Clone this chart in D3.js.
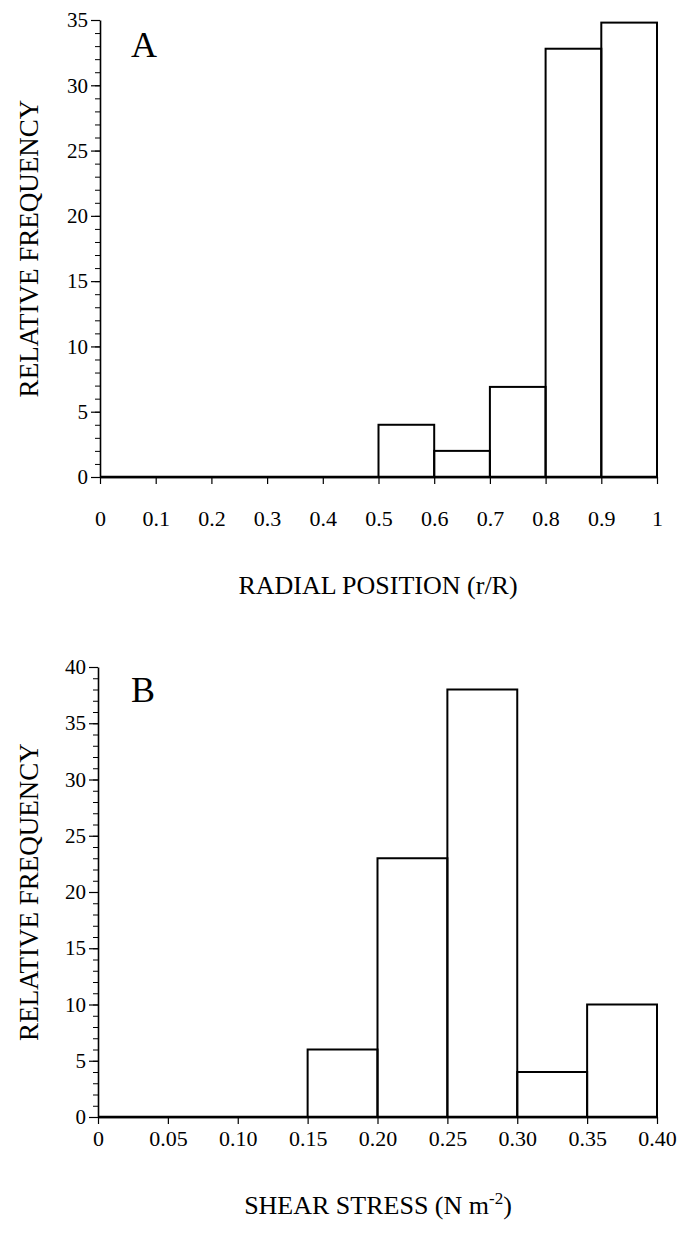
<!DOCTYPE html>
<html>
<head>
<meta charset="utf-8">
<script src="https://cdn.jsdelivr.net/npm/d3@7"></script>
</head>
<body style="margin:0;background:#fff">
<svg id="chart" width="681" height="1243" font-family="Liberation Serif"></svg>
<script>
// ---- Data ----
const aBinStarts = [0, 0.1, 0.2, 0.3, 0.4, 0.5, 0.6, 0.7, 0.8, 0.9];
const aBinWidth = 0.1;
const aValues = [0, 0, 0, 0, 0, 4, 2, 6.9, 32.8, 34.8];
const aXTicks = [0, 0.1, 0.2, 0.3, 0.4, 0.5, 0.6, 0.7, 0.8, 0.9, 1];
const aXTickLabels = ["0", "0.1", "0.2", "0.3", "0.4", "0.5", "0.6", "0.7", "0.8", "0.9", "1"];
const aYTicks = [0, 5, 10, 15, 20, 25, 30, 35];

const bBinStarts = [0, 0.05, 0.10, 0.15, 0.20, 0.25, 0.30, 0.35];
const bBinWidth = 0.05;
const bValues = [0, 0, 0, 6, 23, 38, 4, 10];
const bXTicks = [0, 0.05, 0.10, 0.15, 0.20, 0.25, 0.30, 0.35, 0.40];
const bXTickLabels = ["0", "0.05", "0.10", "0.15", "0.20", "0.25", "0.30", "0.35", "0.40"];
const bYTicks = [0, 5, 10, 15, 20, 25, 30, 35, 40];

const FONT = '"Liberation Serif"';
const svg = d3.select("#chart");

function panel(cfg) {
  const x = d3.scaleLinear().domain(cfg.xDomain).range([cfg.left, cfg.right]);
  const y = d3.scaleLinear().domain(cfg.yDomain).range([cfg.bottom, cfg.top]);
  const g = svg.append("g");

  // minor y ticks
  const minor = d3.range(cfg.yDomain[0], cfg.yDomain[1] + 1, 1);
  g.append("g")
    .attr("transform", `translate(${cfg.left},0)`)
    .call(d3.axisLeft(y).tickValues(minor).tickSize(5).tickFormat(""))
    .call(s => s.select(".domain").remove())
    .call(s => s.selectAll("line").attr("stroke", "#000").attr("stroke-width", 1));

  // major y axis
  const ya = g.append("g")
    .attr("transform", `translate(${cfg.left},0)`)
    .call(d3.axisLeft(y).tickValues(cfg.yTicks).tickSize(9).tickSizeOuter(0).tickPadding(3));
  ya.attr("font-family", null).attr("font-size", null);
  ya.select(".domain").attr("stroke", "#000").attr("stroke-width", 1.6);
  ya.selectAll("line").attr("stroke", "#000").attr("stroke-width", 1.2);
  ya.selectAll("text").style("font-family", FONT).style("font-size", "21px").attr("fill", "#000");

  // x axis
  const xa = g.append("g")
    .attr("transform", `translate(0,${cfg.bottom})`)
    .call(d3.axisBottom(x).tickValues(cfg.xTicks).tickSize(7).tickSizeOuter(0).tickPadding(cfg.xPad)
      .tickFormat((d, i) => cfg.xLabels[i]));
  xa.attr("font-family", null).attr("font-size", null);
  xa.select(".domain").attr("stroke", "#000").attr("stroke-width", 1.6);
  xa.selectAll("line").attr("stroke", "#000").attr("stroke-width", 1.2);
  xa.selectAll("text").style("font-family", FONT).style("font-size", "22px").attr("fill", "#000");

  // bars
  g.append("g").selectAll("rect")
    .data(cfg.starts.map((s, i) => ({ s, v: cfg.values[i] })))
    .join("rect")
    .attr("x", d => x(d.s))
    .attr("y", d => y(d.v))
    .attr("width", d => x(d.s + cfg.width) - x(d.s))
    .attr("height", d => y(0) - y(d.v))
    .attr("fill", "none")
    .attr("stroke", "#000")
    .attr("stroke-width", 2);

  // baseline emphasized
  g.append("line")
    .attr("x1", x(cfg.xDomain[0])).attr("x2", x(cfg.xDomain[1]))
    .attr("y1", y(0)).attr("y2", y(0))
    .attr("stroke", "#000").attr("stroke-width", 2.4);

  // panel letter
  g.append("text")
    .attr("x", cfg.letterX).attr("y", cfg.letterY)
    .style("font-family", FONT).style("font-size", "36px")
    .text(cfg.letter);

  // y title
  g.append("text")
    .attr("transform", `translate(${cfg.yTitleX},${(cfg.top + cfg.bottom) / 2}) rotate(-90)`)
    .attr("text-anchor", "middle")
    .style("font-family", FONT).style("font-size", "27px")
    .text("RELATIVE FREQUENCY");

  // x title
  const xt = g.append("text")
    .attr("x", cfg.xTitleX)
    .attr("y", cfg.xTitleY)
    .attr("text-anchor", "middle")
    .style("font-family", FONT).style("font-size", "26px");
  cfg.xTitle(xt);
}

panel({
  xDomain: [0, 1], yDomain: [0, 35],
  left: 100, right: 657, top: 20, bottom: 477,
  starts: aBinStarts, width: aBinWidth, values: aValues,
  xTicks: aXTicks, xLabels: aXTickLabels, yTicks: aYTicks, xPad: 26,
  letter: "A", letterX: 131, letterY: 57, yTitleX: 38, xTitleX: 378, xTitleY: 594,
  xTitle: t => t.text("RADIAL POSITION (r/R)")
});

panel({
  xDomain: [0, 0.4], yDomain: [0, 40],
  left: 98, right: 657, top: 667, bottom: 1117,
  starts: bBinStarts, width: bBinWidth, values: bValues,
  xTicks: bXTicks, xLabels: bXTickLabels, yTicks: bYTicks, xPad: 6,
  letter: "B", letterX: 131, letterY: 702, yTitleX: 38, xTitleX: 378, xTitleY: 1214,
  xTitle: t => {
    t.append("tspan").text("SHEAR STRESS (N m");
    t.append("tspan").attr("dy", -10).style("font-size", "17px").text("-2");
    t.append("tspan").attr("dy", 10).text(")");
  }
});
</script>
</body>
</html>
